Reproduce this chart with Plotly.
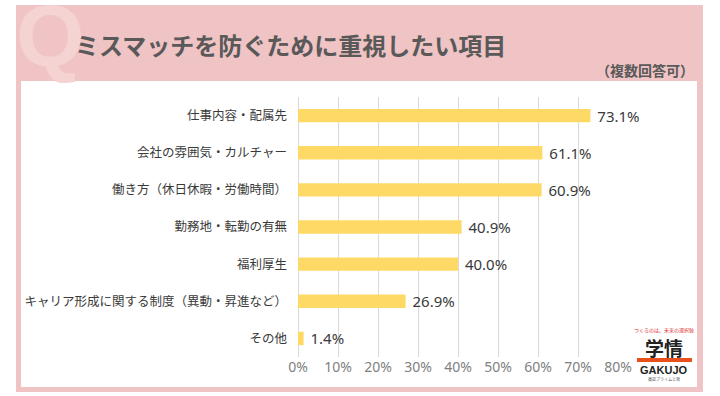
import plotly.graph_objects as go

categories = ["仕事内容・配属先", "会社の雰囲気・カルチャー", "働き方（休日休暇・労働時間）",
              "勤務地・転勤の有無", "福利厚生", "キャリア形成に関する制度（異動・昇進など）", "その他"]
values = [73.1, 61.1, 60.9, 40.9, 40.0, 26.9, 1.4]
tick_vals = [0, 10, 20, 30, 40, 50, 60, 70, 80]
tick_text = ["0%", "10%", "20%", "30%", "40%", "50%", "60%", "70%", "80%"]
title_text = "ミスマッチを防ぐために重視したい項目"
subtitle_text = "（複数回答可）"

W, H = 720, 396
L, R, T, B = 298, 102, 97, 39
PW, PH = W - L - R, H - T - B

def px(x):
    return (x - L) / PW

def py(y):
    return (H - B - y) / PH

JP = "Noto Sans CJK JP"
PINK = "#F0C3C4"

fig = go.Figure()
fig.add_trace(go.Bar(
    x=values, y=categories, orientation="h",
    marker=dict(color="#FFD966", line=dict(width=0)),
    text=[f" {v:.1f}%" for v in values], textposition="outside",
    constraintext="none",
    textfont=dict(family="Noto Sans, " + JP, size=15, color="#3A3A3A"),
    cliponaxis=False, width=0.36, hoverinfo="skip",
))

shapes = [
    dict(type="rect", xref="paper", yref="paper", x0=px(16), x1=px(703), y0=py(392), y1=py(5),
         fillcolor=PINK, line=dict(width=0), layer="below"),
    dict(type="rect", xref="paper", yref="paper", x0=px(21), x1=px(697), y0=py(387), y1=py(81),
         fillcolor="white", line=dict(width=0), layer="below"),
    dict(type="rect", xref="paper", yref="paper", x0=px(637), x1=px(692), y0=py(362), y1=py(358),
         fillcolor="#E8501E", line=dict(width=0), layer="above"),
]

annotations = [
    dict(text="<b>Q</b>", xref="paper", yref="paper", x=px(14), y=py(-16), xanchor="left", yanchor="top",
         showarrow=False, font=dict(family="Liberation Sans", size=88, color="#F5D3D3")),
    dict(text="<b>" + title_text + "</b>", xref="paper", yref="paper", x=px(73), y=py(44),
         xanchor="left", yanchor="middle", showarrow=False,
         font=dict(family=JP, size=24, color="#595959")),
    dict(text="<b>" + subtitle_text + "</b>", xref="paper", yref="paper", x=px(696), y=py(70),
         xanchor="right", yanchor="middle", showarrow=False,
         font=dict(family=JP, size=14, color="#595959")),
    dict(text="つくるのは、未来の選択肢", xref="paper", yref="paper", x=px(664), y=py(330),
         xanchor="center", yanchor="middle", showarrow=False,
         font=dict(family=JP, size=5, color="#E03030")),
    dict(text="<b>学情</b>", xref="paper", yref="paper", x=px(664), y=py(347),
         xanchor="center", yanchor="middle", showarrow=False,
         font=dict(family=JP, size=19, color="#222222")),
    dict(text="<b>GAKUJO</b>", xref="paper", yref="paper", x=px(664), y=py(370),
         xanchor="center", yanchor="middle", showarrow=False,
         font=dict(family="Liberation Sans", size=11, color="#222222")),
    dict(text="東証プライム上場", xref="paper", yref="paper", x=px(664), y=py(379),
         xanchor="center", yanchor="middle", showarrow=False,
         font=dict(family=JP, size=4, color="#555555")),
]

fig.update_layout(
    width=W, height=H, margin=dict(l=L, r=R, t=T, b=B, autoexpand=False),
    paper_bgcolor="white", plot_bgcolor="rgba(0,0,0,0)",
    showlegend=False, shapes=shapes, annotations=annotations,
    bargap=0.64, hovermode=False,
)
fig.update_xaxes(range=[0, 80], tickvals=tick_vals, ticktext=tick_text, automargin=False,
                 showgrid=True, gridcolor="#D9D9D9", gridwidth=1, zeroline=True,
                 zerolinecolor="#D9D9D9", zerolinewidth=1, showline=False,
                 tickfont=dict(family="Noto Sans", size=14, color="#7F7F7F"), ticks="")
fig.update_yaxes(autorange="reversed", showgrid=False, ticks="", showline=False, automargin=False,
                 ticklabelstandoff=10,
                 tickfont=dict(family=JP, size=12.5, color="#3A3A3A"))

fig.write_html("out.html", config={"displayModeBar": False},
               post_script="document.body.style.margin='0';document.body.style.overflow='hidden';")
